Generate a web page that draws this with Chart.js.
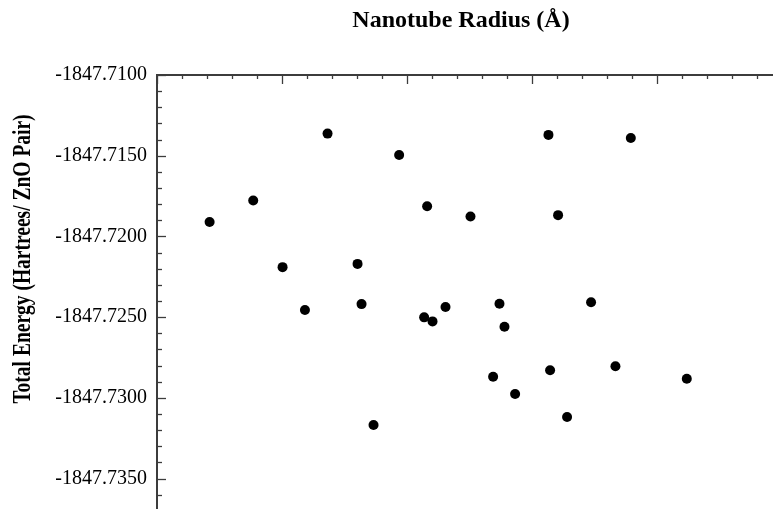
<!DOCTYPE html>
<html>
<head>
<meta charset="utf-8">
<script src="https://cdn.jsdelivr.net/npm/chart.js@4"></script>
<style>
  body { margin: 0; background: #fff; }
  #wrap { width: 773px; height: 509px; }
</style>
</head>
<body>
<div id="wrap"><canvas id="myChart" width="773" height="509"></canvas></div>
<script>
// nanotube radius (Å), the x axis has no numbers
const radius = [
  3.421, 3.770, 4.005, 4.184, 4.365, 4.605, 4.637, 4.733, 4.938, 5.138,
  5.162, 5.205, 5.309, 5.509, 5.690, 5.741, 5.781, 5.866, 6.133, 6.146,
  6.210, 6.282, 6.474, 6.669, 6.792, 7.240
];
// total energy (hartrees / ZnO pair)
const energy = [
  -1847.71911, -1847.71777, -1847.72190, -1847.72456, -1847.71363, -1847.72170,
  -1847.72419, -1847.73168, -1847.71495, -1847.72501, -1847.71813, -1847.72526,
  -1847.72437, -1847.71876, -1847.72869, -1847.72417, -1847.72559, -1847.72976,
  -1847.71371, -1847.72829, -1847.71868, -1847.73118, -1847.72408, -1847.72804,
  -1847.71390, -1847.72881
];
const yTicks = [-1847.71, -1847.715, -1847.72, -1847.725, -1847.73, -1847.735];

const xMin = 3;
const xMax = 7.93;
const yMin = -1847.73688;
const yMax = -1847.71;

const axisColor = "#3c3c3c";
const serif = "'Liberation Serif', 'Times New Roman', serif";

let points = radius.map((r, i) => ({ x: r, y: energy[i] }));

// no extra room for the end labels, the plot runs off the picture
function noPadding(scale) {
  scale.paddingTop = 0;
  scale.paddingBottom = 0;
  scale.paddingLeft = 0;
  scale.paddingRight = 0;
}

// tick marks point into the plot, minor ones shorter, plus the two titles
const extras = {
  id: "extras",
  afterDraw(chart) {
    const ctx = chart.ctx;
    const xs = chart.scales.x;
    const ys = chart.scales.y;
    const area = chart.chartArea;
    ctx.save();
    ctx.strokeStyle = axisColor;
    ctx.lineWidth = 1.3;
    for (let i = 0; xMin + i * 0.2 <= xMax; i++) {
      const px = Math.round(xs.getPixelForValue(xMin + i * 0.2)) + 0.5;
      const len = i % 5 === 0 ? 9 : 4;
      ctx.beginPath();
      ctx.moveTo(px, area.top);
      ctx.lineTo(px, area.top + len);
      ctx.stroke();
    }
    for (let i = 0; yMax - i * 0.001 >= yMin; i++) {
      const py = Math.round(ys.getPixelForValue(yMax - i * 0.001)) + 0.5;
      const len = i % 5 === 0 ? 9 : 5;
      ctx.beginPath();
      ctx.moveTo(area.left, py);
      ctx.lineTo(area.left + len, py);
      ctx.stroke();
    }

    ctx.fillStyle = "#000";
    ctx.textAlign = "center";
    ctx.textBaseline = "alphabetic";
    ctx.font = "bold 24px " + serif;
    ctx.fillText("Nanotube Radius (Å)", 461, 27);

    ctx.translate(30, 259);
    ctx.rotate(-Math.PI / 2);
    ctx.scale(0.78, 1);
    ctx.font = "bold 25px " + serif;
    ctx.fillText("Total Energy (Hartrees/ ZnO Pair)", 0, 0);
    ctx.restore();
  },
};

new Chart(document.getElementById("myChart"), {
  type: "scatter",
  data: {
    datasets: [
      {
        data: points,
        backgroundColor: "#000",
        borderColor: "#000",
        borderWidth: 0,
        pointRadius: 5,
        pointHoverRadius: 5,
      },
    ],
  },
  options: {
    responsive: false,
    animation: false,
    devicePixelRatio: 1,
    layout: { padding: 0, autoPadding: false },
    plugins: {
      legend: { display: false },
      tooltip: { enabled: false },
    },
    scales: {
      x: {
        type: "linear",
        position: "top",
        min: xMin,
        max: xMax,
        grid: { display: false, drawTicks: false },
        ticks: { display: false },
        border: { display: true, color: axisColor, width: 2 },
        afterFit: (scale) => {
          scale.height = 75;
          noPadding(scale);
        },
      },
      y: {
        type: "linear",
        position: "left",
        min: yMin,
        max: yMax,
        grid: { display: false, drawTicks: false },
        border: { display: true, color: axisColor, width: 2 },
        afterBuildTicks: (scale) => {
          scale.ticks = yTicks.map((v) => ({ value: v }));
        },
        ticks: {
          color: "#000",
          padding: 10,
          font: { family: serif, size: 20 },
          callback: (v) => v.toFixed(4),
        },
        afterFit: (scale) => {
          scale.width = 157;
          noPadding(scale);
        },
      },
    },
  },
  plugins: [extras],
});
</script>
</body>
</html>
